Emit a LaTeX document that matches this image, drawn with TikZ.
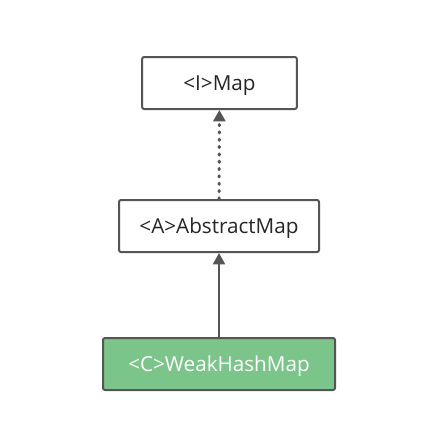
\documentclass[tikz,border=0pt]{standalone}
\usepackage{fontspec}
\setmainfont{Open Sans}
\usetikzlibrary{arrows.meta, positioning}
\definecolor{edgegray}{HTML}{555555}
\definecolor{implgreen}{HTML}{7BC58A}

\begin{document}
\begin{tikzpicture}[
  x=0.75pt, y=-0.75pt,
  cls/.style={draw=edgegray, line width=1.5pt, rounded corners=1.5pt, fill=white,
    minimum height=39pt, inner sep=0pt, text height=11pt, text depth=0pt,
    font=\fontsize{15.5}{17}\selectfont, text=black!85},
  arr/.style={-{Triangle[length=8.5pt, width=9pt]}, draw=edgegray, line width=1.5pt},
  dotarr/.style={arr, line width=2.3pt, line cap=round, dash pattern=on 0.9pt off 4.6pt}
]
  \useasboundingbox (0,0) rectangle (442,443);

  %% Interface
  \node[cls, minimum width=116pt] (map) at (219.5,83) {<I>Map};

  %% Abstract class
  \node[cls, minimum width=150pt] (absmap) at (219,226) {<A>AbstractMap};
  \draw[dotarr] (absmap) -- (map);

  %% Concrete class
  \node[cls, minimum width=174pt, fill=implgreen, text=white] (weakmap) at (219,364) {<C>WeakHashMap};
  \draw[arr] (weakmap) -- (absmap);

\end{tikzpicture}
\end{document}
